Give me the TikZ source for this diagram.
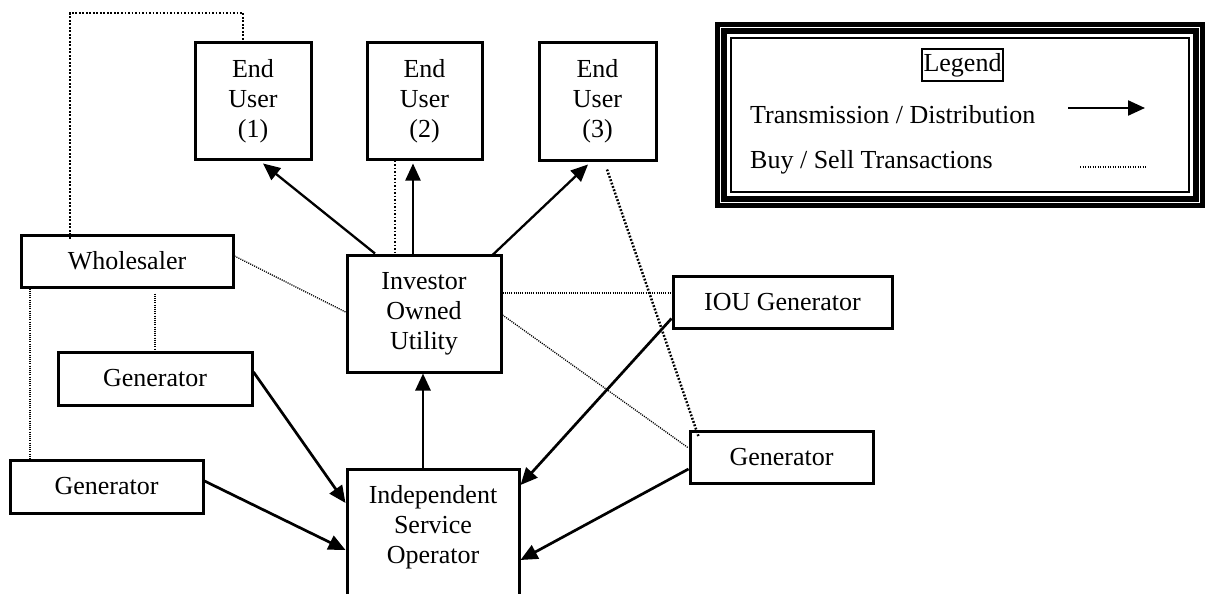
\documentclass[tikz,border=0pt]{standalone}
\usepackage{fontspec}
\setmainfont{Liberation Serif}
\usetikzlibrary{arrows.meta,calc}

\tikzset{
  unitbox/.style={draw, line width=3pt, inner sep=0pt, align=center,
                  font=\fontsize{26}{30}\selectfont},
  flow/.style={line width=2.3pt, -{Triangle[length=17pt,width=15pt]}},
  flowheavy/.style={line width=2.7pt, -{Triangle[length=17pt,width=15pt]}},
  tradeheavy/.style={line width=2.5pt, dash pattern=on 1.8pt off 1.7pt},
  tradelight/.style={line width=1.3pt, dash pattern=on 1.1pt off 1.1pt},
  legtext/.style={inner sep=0pt, anchor=base west, font=\fontsize{26}{30}\selectfont},
}

\begin{document}
\begin{tikzpicture}[x=1pt, y=-1pt]
\useasboundingbox (0,0) rectangle (1210,594);
\clip (0,0) rectangle (1210,594);
\fill[white] (0,0) rectangle (1210,594);

% customers
\node[unitbox, minimum width=116pt, minimum height=116pt] (eu1) at (253,101) {End\\User\\(1)};
\node[unitbox, minimum width=115pt, minimum height=116pt] (eu2) at (424.5,101) {End\\User\\(2)};
\node[unitbox, minimum width=117pt, minimum height=117pt] (eu3) at (597.5,101.5) {End\\User\\(3)};

% market participants
\node[unitbox, minimum width=212pt, minimum height=52pt] (whole) at (127,261) {Wholesaler};
\node[unitbox, minimum width=194pt, minimum height=53pt] (gen1) at (155,378.5) {Generator};
\node[unitbox, minimum width=193pt, minimum height=53pt] (gen2) at (106.5,486.5) {Generator};
\node[unitbox, minimum width=154pt, minimum height=117pt] (iou) at (424,313.5) {Investor\\Owned\\Utility};
\node[unitbox, minimum width=219pt, minimum height=52pt] (ioug) at (782.5,302) {IOU Generator};
\node[unitbox, minimum width=183pt, minimum height=52pt] (gen3) at (781.5,457) {Generator};

% system operator (box runs off the bottom edge)
\node[draw, line width=3pt, inner sep=0pt, minimum width=172pt, minimum height=160pt,
      anchor=north] (iso) at (433,468) {};
\node[inner sep=0pt, align=center, anchor=north, font=\fontsize{26}{30}\selectfont]
      (isotext) at ([yshift=-17pt]iso.north) {Independent\\Service\\Operator};

% transmission / distribution
\draw[flow] ([xshift=-49pt]iou.north) -- ([xshift=10pt,yshift=-3pt]eu1.south);
\draw[flow] ([xshift=-11pt]iou.north) -- ([xshift=-11pt,yshift=-3pt]iou.north |- eu2.south);
\draw[flow] ([xshift=68pt,yshift=-2pt]iou.north) -- ([xshift=-9.5pt,yshift=-3pt]eu3.south);
\draw[flowheavy] ([xshift=-10pt]iso.north) -- ([xshift=-10pt]iso.north |- iou.south);
\draw[flowheavy] ([yshift=6.5pt]gen1.east) -- ([yshift=-35pt]iso.north west);
\draw[flowheavy] ([yshift=5.5pt]gen2.east) -- ([yshift=-82pt]iso.north west);
\draw[flowheavy] ([yshift=11pt]ioug.south west) -- ([yshift=-17pt]iso.north east);
\draw[flowheavy] ([yshift=-12pt]gen3.west) -- ([yshift=-92pt]iso.north east);

% buy / sell transactions
\coordinate (wtop) at (150,13);
\draw[tradeheavy] ([xshift=-57pt,yshift=-5pt]whole.north) |- (wtop) -| ([xshift=-10pt]eu1.north);
\draw[tradeheavy] ([xshift=-29.5pt]eu2.south) -- ([xshift=-29.5pt]eu2.south |- iou.north);
\draw[tradeheavy] ([xshift=9.5pt,yshift=-8pt]eu3.south) -- ([xshift=10pt,yshift=-7pt]gen3.north west);
\draw[tradelight] ([yshift=5pt]whole.east) -- ([yshift=1.5pt]iou.west);
\draw[tradelight] ([xshift=28pt,yshift=-5pt]whole.south) -- ([xshift=28pt]whole.south |- gen1.north);
\draw[tradelight] ([xshift=-97pt]whole.south) -- ([xshift=-97pt]whole.south |- gen2.north);
\coordinate (ioue) at ([yshift=20.5pt]iou.east);
\draw[tradelight] (ioue) -- (ioue -| ioug.west);
\draw[tradelight] ([yshift=-1.5pt]iou.east) -- ([yshift=9pt]gen3.west);

% legend frame
\draw[line width=5pt] (717.5,24.5) rectangle (1202.5,205.5);
\draw[line width=5.5pt] (724,31) rectangle (1196,199);
\draw[line width=2.2pt] (731,38) rectangle (1189,192);
\node[draw, line width=1.6pt, inner sep=1.5pt, font=\fontsize{26}{30}\selectfont,
      minimum width=81pt, minimum height=32pt] (legtitle) at (962.5,65) {Legend};
\node[legtext] (legtd) at (750,123) {Transmission / Distribution};
\node[legtext] (legbs) at (750,168) {Buy / Sell Transactions};
\coordinate (ltda) at (1068,108);
\coordinate (ltdb) at (1145,108);
\draw[flow] (ltda) -- (ltdb);
\coordinate (lbsa) at (1080,167);
\coordinate (lbsb) at (1147,167);
\draw[line width=1.5pt, dash pattern=on 1.2pt off 1.3pt] (lbsa) -- (lbsb);
\end{tikzpicture}
\end{document}
